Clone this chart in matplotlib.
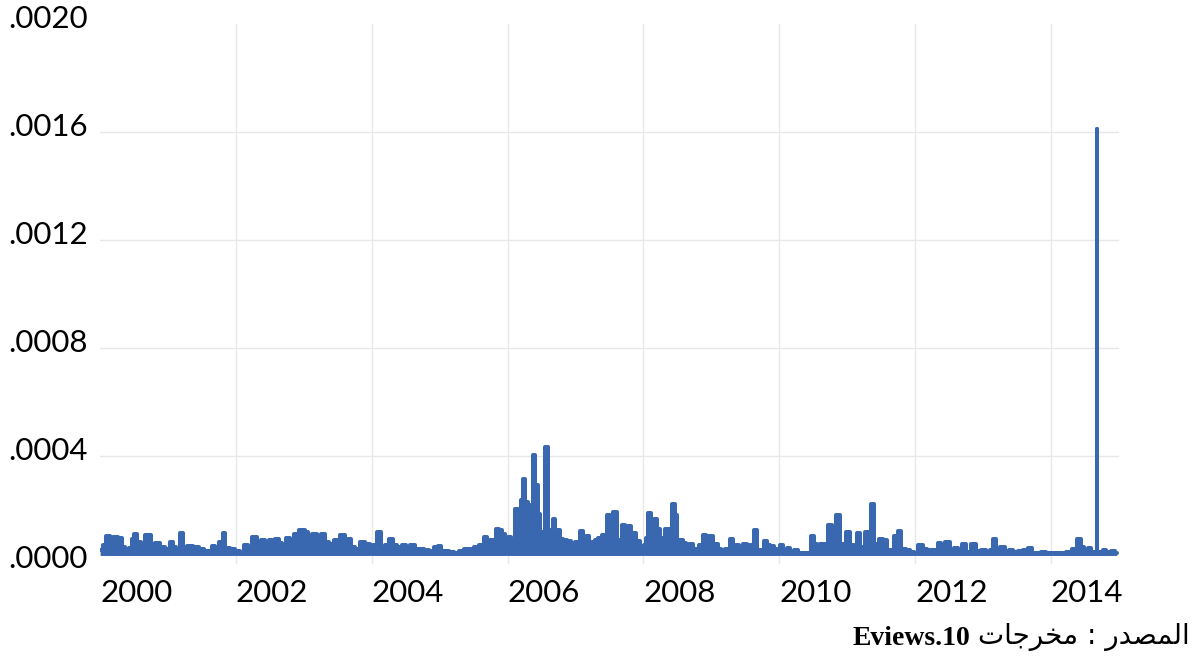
import numpy as np
import matplotlib
matplotlib.use("Agg")
import matplotlib.pyplot as plt
from matplotlib.transforms import ScaledTranslation

# conditional variance, read as years after 2000 and value in units of 1e-6
t_years = [
    0.000, 0.071, 0.105, 0.130, 0.159, 0.218, 0.306, 0.336, 0.395, 0.454,
    0.483, 0.527, 0.571, 0.630, 0.689, 0.733, 0.778, 0.851, 0.925, 0.999,
    1.057, 1.102, 1.146, 1.205, 1.249, 1.323, 1.426, 1.499, 1.573, 1.632,
    1.676, 1.720, 1.794, 1.823, 1.867, 1.956,
    2.029, 2.088, 2.147, 2.206, 2.280, 2.353, 2.397, 2.456, 2.515, 2.545,
    2.604, 2.663, 2.707, 2.766, 2.825, 2.884, 2.987,
    3.046, 3.090, 3.164, 3.223, 3.282, 3.341, 3.399, 3.502, 3.576, 3.635,
    3.679, 3.723, 3.782, 3.870, 3.944,
    4.003, 4.047, 4.121, 4.165, 4.224, 4.297, 4.342, 4.415, 4.489, 4.533,
    4.607, 4.666, 4.739, 4.813, 4.887, 4.931, 4.960,
    5.004, 5.048, 5.107, 5.181, 5.254, 5.328, 5.402, 5.475, 5.549, 5.623,
    5.682, 5.711, 5.785, 5.814, 5.858, 5.902, 5.947, 5.991,
    6.035, 6.079, 6.138, 6.182, 6.212, 6.241, 6.286, 6.315, 6.359, 6.388,
    6.433, 6.462, 6.506, 6.536, 6.580, 6.610, 6.654, 6.683, 6.727, 6.757,
    6.801, 6.845, 6.919, 6.963,
    7.022, 7.051, 7.095, 7.139, 7.184, 7.228, 7.257, 7.316, 7.361, 7.405,
    7.449, 7.493, 7.537, 7.582, 7.626, 7.655, 7.714, 7.758, 7.788, 7.832,
    7.876, 7.920, 7.979,
    8.024, 8.053, 8.097, 8.141, 8.171, 8.215, 8.274, 8.303, 8.347, 8.392,
    8.436, 8.480, 8.509, 8.568, 8.598, 8.642, 8.701, 8.745, 8.789, 8.848,
    8.907, 8.937, 8.996,
    9.040, 9.069, 9.114, 9.173, 9.231, 9.305, 9.334, 9.379, 9.438, 9.496,
    9.541, 9.600, 9.659, 9.688, 9.747, 9.791, 9.835, 9.894, 9.938, 9.982,
    10.041, 10.085, 10.130, 10.189, 10.248, 10.306, 10.380, 10.439, 10.483,
    10.527, 10.572, 10.631, 10.689, 10.748, 10.793, 10.866, 10.910, 10.955,
    11.014, 11.072, 11.117, 11.161, 11.220, 11.293, 11.323, 11.367, 11.411,
    11.441, 11.500, 11.559, 11.603, 11.662, 11.720, 11.764, 11.823, 11.897,
    11.956,
    12.000, 12.088, 12.147, 12.191, 12.265, 12.324, 12.353, 12.412, 12.471,
    12.545, 12.604, 12.663, 12.722, 12.781, 12.869, 12.928,
    13.002, 13.075, 13.134, 13.164, 13.222, 13.281, 13.355, 13.399, 13.473,
    13.546, 13.620, 13.694, 13.738, 13.812, 13.885, 13.959,
    14.033, 14.106, 14.180, 14.268, 14.357, 14.416, 14.460, 14.519, 14.564,
    14.623, 14.675, 14.681, 14.687, 14.740, 14.785, 14.844, 14.917, 14.970,
]
var_e6 = [
    52, 70, 104, 104, 56, 100, 96, 63, 56, 59,
    93, 111, 82, 67, 107, 107, 74, 78, 63, 56,
    82, 63, 48, 115, 56, 67, 63, 56, 48, 48,
    67, 48, 82, 115, 59, 56,
    48, 41, 70, 56, 100, 63, 89, 82, 89, 63,
    93, 78, 70, 96, 63, 111, 126,
    119, 89, 111, 82, 111, 82, 74, 89, 107, 63,
    93, 63, 56, 82, 74,
    63, 70, 119, 63, 70, 93, 70, 63, 70, 59,
    70, 56, 56, 52, 48, 63, 52,
    67, 48, 48, 44, 41, 48, 56, 56, 63, 70,
    100, 74, 89, 70, 130, 126, 111, 70,
    100, 89, 204, 93, 237, 315, 230, 219, 211, 404,
    293, 185, 119, 82, 433, 126, 100, 167, 93, 126,
    93, 89, 85, 63,
    82, 70, 122, 74, 104, 70, 82, 89, 96, 107,
    104, 182, 85, 193, 89, 89, 144, 89, 141, 82,
    115, 85, 59,
    70, 96, 189, 93, 167, 130, 96, 96, 130, 130,
    222, 182, 89, 89, 78, 59, 74, 56, 56, 70,
    107, 70, 104,
    63, 74, 56, 52, 56, 93, 63, 70, 59, 74,
    56, 70, 126, 52, 52, 85, 70, 67, 56, 48,
    70, 48, 59, 44, 52, 41, 41, 41, 104,
    74, 59, 74, 74, 144, 82, 182, 70, 74,
    119, 70, 63, 115, 63, 119, 70, 222, 70,
    74, 93, 89, 52, 52, 104, 122, 56, 52,
    44,
    41, 70, 56, 52, 52, 52, 78, 48, 82,
    52, 59, 52, 74, 44, 74, 48,
    52, 44, 52, 93, 48, 63, 44, 52, 44,
    48, 52, 59, 41, 41, 44, 41,
    41, 41, 41, 44, 56, 93, 63, 52, 59,
    44, 44, 1611, 44, 44, 52, 44, 48, 41,
]
floor_e6 = 31.5

x_ticks = [2000, 2002, 2004, 2006, 2008, 2010, 2012, 2014]
y_ticks = [0.0, 0.0004, 0.0008, 0.0012, 0.0016, 0.0020]
y_labels = [".0000", ".0004", ".0008", ".0012", ".0016", ".0020"]

# source line, Arabic presentation forms laid out left to right
source_ar = "\uFE95\uFE8E\uFE9F\uFEAE\uFEA8\uFEE3 : \uFEAD\uFEAA\uFEBC\uFEE4\uFEDF\uFE8D"
source_en = "Eviews.10"

BLUE = "#3a68b0"
GRID = "#e8e8e8"

plt.rcParams["font.family"] = ["Lato", "DejaVu Sans"]

dates = 2000 + np.array(t_years)
var = np.array(var_e6) * 1e-6

fig = plt.figure(figsize=(11.95, 6.57), dpi=100)
ax = fig.add_axes([0.0838, 0.1416, 0.8524, 0.8219])

for yr in x_ticks[1:]:
    ax.axvline(yr, color=GRID, lw=1.0, zorder=0)
for yv in y_ticks[1:-1]:
    ax.axhline(yv, color=GRID, lw=1.0, zorder=0)

ax.fill_between(dates, floor_e6 * 1e-6, var, step="mid", color=BLUE, lw=0, zorder=2)
ax.plot(dates, var, drawstyle="steps-mid", color=BLUE, lw=2.9,
        solid_joinstyle="round", solid_capstyle="round", zorder=3)

ax.set_xlim(2000, 2015)
ax.set_ylim(0, 0.002)
for s in ax.spines.values():
    s.set_visible(False)

ax.set_xticks(x_ticks)
ax.set_xticklabels([str(y) for y in x_ticks])
ax.tick_params(axis="x", length=0, pad=11, labelsize=22.5)
for lab in ax.get_xticklabels():
    lab.set_ha("left")

ax.set_yticks(y_ticks)
ax.set_yticklabels(y_labels)
ax.tick_params(axis="y", length=0, pad=66.3, labelsize=22.5)
shift = ScaledTranslation(0, -0.04, fig.dpi_scale_trans)
for lab in ax.get_yticklabels():
    lab.set_ha("left")
    lab.set_va("baseline")
    lab.set_transform(lab.get_transform() + shift)

ar = fig.text(0.996, 0.02, source_ar, ha="right", va="baseline",
              fontsize=20, family="DejaVu Sans", color="black")
ax.annotate(source_en, xy=(0, 0), xycoords=ar, xytext=(-6, 0),
            textcoords="offset points", ha="right", va="bottom",
            fontsize=20, family="Liberation Serif", fontweight="bold",
            annotation_clip=False)

fig.savefig("out.png", dpi=100)
